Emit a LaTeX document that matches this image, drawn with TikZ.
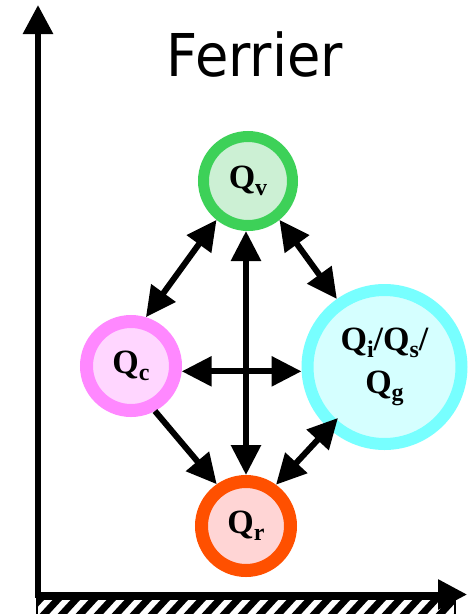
\documentclass[tikz,border=0pt]{standalone}
\usepackage{fontspec}
\usepackage{graphicx}
\newfontfamily\titlefont{DejaVu Sans}
\newfontfamily\qfont{Liberation Serif}
\usetikzlibrary{arrows.meta,calc}
\definecolor{vring}{HTML}{3DD158}
\definecolor{vfill}{HTML}{CCF0D4}
\definecolor{cring}{HTML}{FF88FF}
\definecolor{cfill}{HTML}{FFD6FF}
\definecolor{rring}{HTML}{FF5000}
\definecolor{rfill}{HTML}{FFD5D5}
\definecolor{iring}{HTML}{77FFFF}
\definecolor{ifill}{HTML}{D5FFFF}
\newcommand{\QQ}[1]{Q\raisebox{-7pt}{\fontsize{24}{24}\selectfont #1}}
\begin{document}
\begin{tikzpicture}[x=1pt,y=-1pt,
  qnode/.style={circle, inner sep=0pt, align=center,
    font=\qfont\bfseries\fontsize{34}{43}\selectfont},
  link/.style={line width=6pt,
    {Triangle[length=30pt,width=29pt]}-{Triangle[length=30pt,width=29pt]}},
  onelink/.style={line width=6pt, -{Triangle[length=30pt,width=29pt]}},
  axis/.style={line width=6pt,
    {Triangle[length=29pt,width=29pt]}-{Triangle[length=29pt,width=29pt]}}
]
\useasboundingbox[fill=white] (0,0) rectangle (469,614);

% hatched ground bar
\begin{scope}
  \clip (37,599) rectangle (455,620);
  \foreach \i in {-1,...,24}
    \draw[line width=7pt] ({37+\i*18}, 622) -- ({37+\i*18+23}, 597);
\end{scope}
\draw[line width=2pt] (37,599) rectangle (455,617);

% axes
\coordinate (ytop) at (38,5);
\coordinate (orig) at (38,594.5);
\coordinate (xend) at (467,594.5);
\draw[axis, line join=miter] (ytop) -- (orig) -- (xend);

% title
\node[anchor=base, font=\titlefont\fontsize{59}{59}\selectfont] (title)
  at (255,76) {\scalebox{0.92}[1]{Ferrier}};

% circles
\node[qnode, draw=vring, fill=vfill, line width=11pt, minimum size=89pt] (qv) at (248,181) {\QQ{v}};
\node[qnode, draw=cring, fill=cfill, line width=13pt, minimum size=89pt] (qc) at (131,366) {\QQ{c}};
\node[qnode, draw=rring, fill=rfill, line width=13pt, minimum size=89pt] (qr) at (246,526) {\QQ{r}};
\node[qnode, draw=iring, fill=ifill, line width=12pt, minimum size=154pt] (qi) at (384.5,367) {\QQ{i}/\QQ{s}/\\\QQ{g}};

% connectors
\draw[link] (qv.-129.4) -- (qc.73.7);
\draw[link] (qv.-51.9) -- (qi.125.3);
\draw[link] (qv.south -| qr.north) -- (qr.north);
\draw[link] (qc.-6.6) -- (qc.-6.6 -| qi.west);
\draw[onelink] (qc.-62.4) -- (qr.125.3);
\coordinate (qiin) at ($(qi.center)+(227.6:69pt)$);
\draw[link] (qr.54.2) -- (qiin);
\end{tikzpicture}
\end{document}
